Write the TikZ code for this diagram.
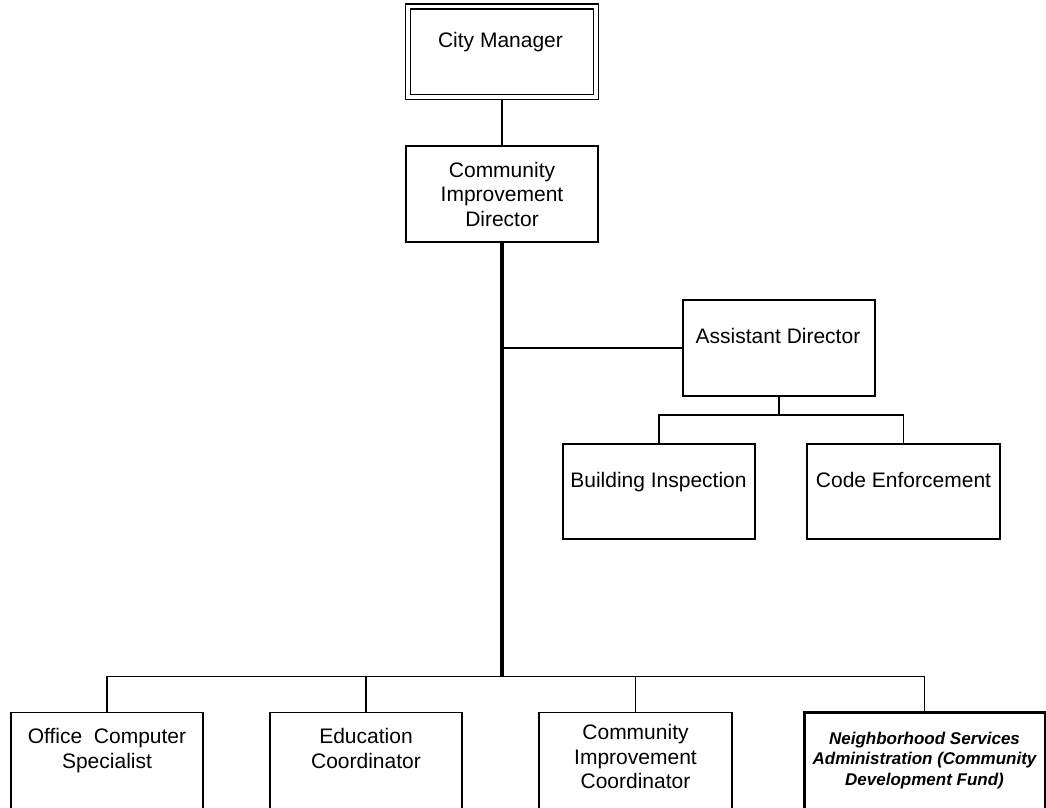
\documentclass[tikz,border=0pt]{standalone}
\usepackage{fontspec}
\setmainfont{Liberation Sans}
\begin{document}
\begin{tikzpicture}[x=1pt,y=-1pt,
  box/.style={draw, line width=1.7pt, inner sep=0pt, minimum width=192pt, minimum height=96pt},
  topbox/.style={draw, line width=1.6pt, double, double distance=3.4pt, outer sep=3.3pt,
    inner sep=0pt, minimum width=188pt, minimum height=90.5pt},
  fundbox/.style={box, line width=3pt, minimum width=241pt},
  conn/.style={line width=1.7pt},
  trunk/.style={line width=3.2pt},
  txt/.style={anchor=north, inner sep=0pt, align=center, font=\fontsize{21}{24.6}\selectfont},
  fundtxt/.style={txt, font=\fontsize{17}{20.8}\selectfont\bfseries\itshape}]
\useasboundingbox (0,0) rectangle (1046,807);
\begin{scope}
\clip (0,0) rectangle (1046,807);

% boxes
\node[topbox] (cm) at (502,51.75) {};
\node[box] (cid) at (502,194) {};
\node[box] (ad) at (779,348) {};
\node[box, minimum height=95pt] (bi) at (659,491.5) {};
\node[box, minimum height=95pt, minimum width=193pt] (ce) at (903.5,491.5) {};
\node[box, minimum height=104pt] (ocs) at (107,764.5) {};
\node[box, minimum height=104pt] (ec) at (366,764.5) {};
\node[box, minimum height=104pt, minimum width=193pt] (cic) at (635.5,764.5) {};
\node[fundbox, minimum height=104pt] (nsa) at (924.5,764.5) {};

% labels
\node[txt] (cmt) at (500.5,31.7) {City Manager};
\node[txt] (cidt) at (502,161.7) {Community\\Improvement\\Director};
\node[txt] (adt) at (778,327.7) {Assistant Director};
\node[txt] (bit) at (658.5,471.7) {Building Inspection};
\node[txt] (cet) at (903.5,471.7) {Code Enforcement};
\node[txt] (ocst) at (107,728) {Office\ \ Computer\\Specialist};
\node[txt] (ect) at (366,728.5) {Education\\Coordinator};
\node[txt] (cict) at (635.5,724.2) {Community\\Improvement\\Coordinator};
\node[fundtxt] (nsat) at (924.5,731.6) {Neighborhood Services\\Administration (Community\\Development Fund)};

% junction levels
\coordinate (bus) at (0,676.5);
\coordinate (sub) at (0,415);

% connectors
\draw[conn] (cm.south) -- (cid.north);
\draw[trunk] (cid.south) -- (cid.south |- bus);
\draw[conn] (ad.west) -- (ad.west -| cid.south);
\draw[conn] (ad.south) -- (ad.south |- sub);
\draw[conn] (bi.north) -- (bi.north |- sub) -- (ce.north |- sub) -- (ce.north);
\draw[conn] (ocs.north) -- (ocs.north |- bus) -- (nsa.north |- bus) -- (nsa.north);
\draw[conn] (ec.north) -- (ec.north |- bus);
\draw[conn] (cic.north) -- (cic.north |- bus);
\end{scope}
\end{tikzpicture}
\end{document}
